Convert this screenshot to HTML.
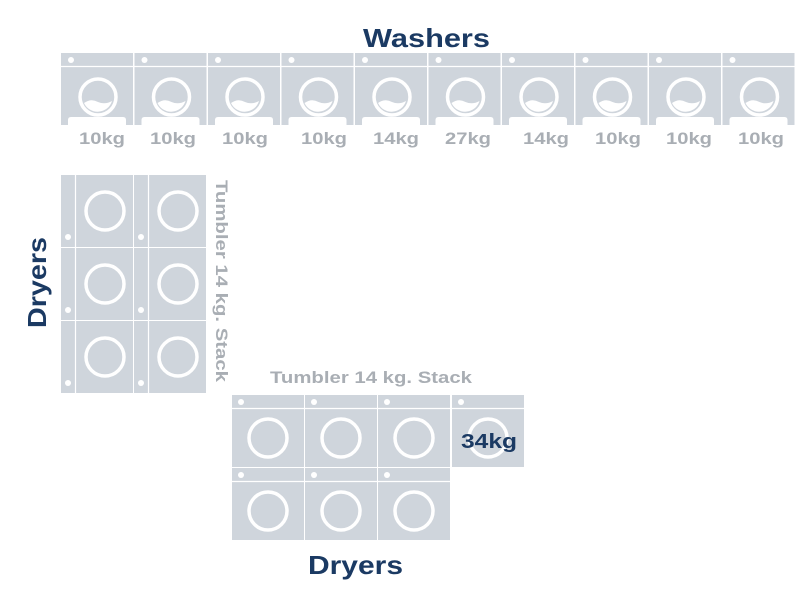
<!DOCTYPE html>
<html><head><meta charset="utf-8"><style>
html,body{margin:0;padding:0;background:#fff;width:800px;height:610px;overflow:hidden}
svg{display:block}
text{font-family:"Liberation Sans",sans-serif;font-weight:bold}
</style></head><body>
<svg width="800" height="610" viewBox="0 0 800 610" xmlns="http://www.w3.org/2000/svg">
<defs>
<g id="w">
<rect x="0" y="0" width="72" height="72" fill="#cfd5dc"/>
<line x1="0" y1="13.5" x2="72" y2="13.5" stroke="#fff" stroke-width="1.2"/>
<circle cx="37" cy="44" r="18" fill="none" stroke="#fff" stroke-width="3.5"/>
<path d="M23 50 Q30 45 37 49 Q44 52 51 48 A15 15 0 0 1 23 50Z" fill="#fff"/>
<path d="M7 72 L7 67 Q7 64 10 64 L62 64 Q65 64 65 67 L65 72Z" fill="#fff"/>
<circle cx="10" cy="7" r="3" fill="#fff"/>
</g>
<g id="d">
<rect x="0" y="0" width="72" height="72" fill="#cfd5dc"/>
<line x1="14.5" y1="0" x2="14.5" y2="72" stroke="#fff" stroke-width="1.2"/>
<circle cx="44" cy="36" r="19" fill="none" stroke="#fff" stroke-width="3.5"/>
<circle cx="7" cy="62" r="3" fill="#fff"/>
</g>
<g id="b">
<rect x="0" y="0" width="72" height="72" fill="#cfd5dc"/>
<line x1="0" y1="13.5" x2="72" y2="13.5" stroke="#fff" stroke-width="1.2"/>
<circle cx="36" cy="43" r="19" fill="none" stroke="#fff" stroke-width="3.5"/>
<circle cx="9" cy="7" r="3" fill="#fff"/>
</g>
</defs>
<text x="363" y="47" font-size="26" fill="#1b3a63" textLength="127" lengthAdjust="spacingAndGlyphs">Washers</text>
<use href="#w" x="61" y="53"/><use href="#w" x="134.5" y="53"/><use href="#w" x="208" y="53"/><use href="#w" x="281.5" y="53"/><use href="#w" x="355" y="53"/><use href="#w" x="428.5" y="53"/><use href="#w" x="502" y="53"/><use href="#w" x="575.5" y="53"/><use href="#w" x="649" y="53"/><use href="#w" x="722.5" y="53"/>
<g font-size="17" fill="#a9aeb4">
<text x="79" y="144" textLength="46" lengthAdjust="spacingAndGlyphs">10kg</text>
<text x="150" y="144" textLength="46" lengthAdjust="spacingAndGlyphs">10kg</text>
<text x="222" y="144" textLength="46" lengthAdjust="spacingAndGlyphs">10kg</text>
<text x="301" y="144" textLength="46" lengthAdjust="spacingAndGlyphs">10kg</text>
<text x="373" y="144" textLength="46" lengthAdjust="spacingAndGlyphs">14kg</text>
<text x="445" y="144" textLength="46" lengthAdjust="spacingAndGlyphs">27kg</text>
<text x="523" y="144" textLength="46" lengthAdjust="spacingAndGlyphs">14kg</text>
<text x="595" y="144" textLength="46" lengthAdjust="spacingAndGlyphs">10kg</text>
<text x="666" y="144" textLength="46" lengthAdjust="spacingAndGlyphs">10kg</text>
<text x="738" y="144" textLength="46" lengthAdjust="spacingAndGlyphs">10kg</text>
</g>
<use href="#d" x="61" y="175"/><use href="#d" x="134" y="175"/>
<use href="#d" x="61" y="248"/><use href="#d" x="134" y="248"/>
<use href="#d" x="61" y="321"/><use href="#d" x="134" y="321"/>
<text transform="translate(216,180) rotate(90)" x="0" y="0" font-size="17" fill="#a9aeb4" textLength="202" lengthAdjust="spacingAndGlyphs">Tumbler 14 kg. Stack</text>
<text transform="translate(46,328) rotate(-90)" x="0" y="0" font-size="26" fill="#1b3a63" textLength="91" lengthAdjust="spacingAndGlyphs">Dryers</text>
<text x="270" y="383" font-size="17" fill="#a9aeb4" textLength="202" lengthAdjust="spacingAndGlyphs">Tumbler 14 kg. Stack</text>
<use href="#b" x="232" y="395"/><use href="#b" x="305" y="395"/><use href="#b" x="378" y="395"/><use href="#b" x="452" y="395"/>
<use href="#b" x="232" y="468"/><use href="#b" x="305" y="468"/><use href="#b" x="378" y="468"/>
<text x="461" y="448" font-size="20" fill="#1b3a63" textLength="56" lengthAdjust="spacingAndGlyphs">34kg</text>
<text x="308" y="574" font-size="26" fill="#1b3a63" textLength="95" lengthAdjust="spacingAndGlyphs">Dryers</text>
</svg>
</body></html>
